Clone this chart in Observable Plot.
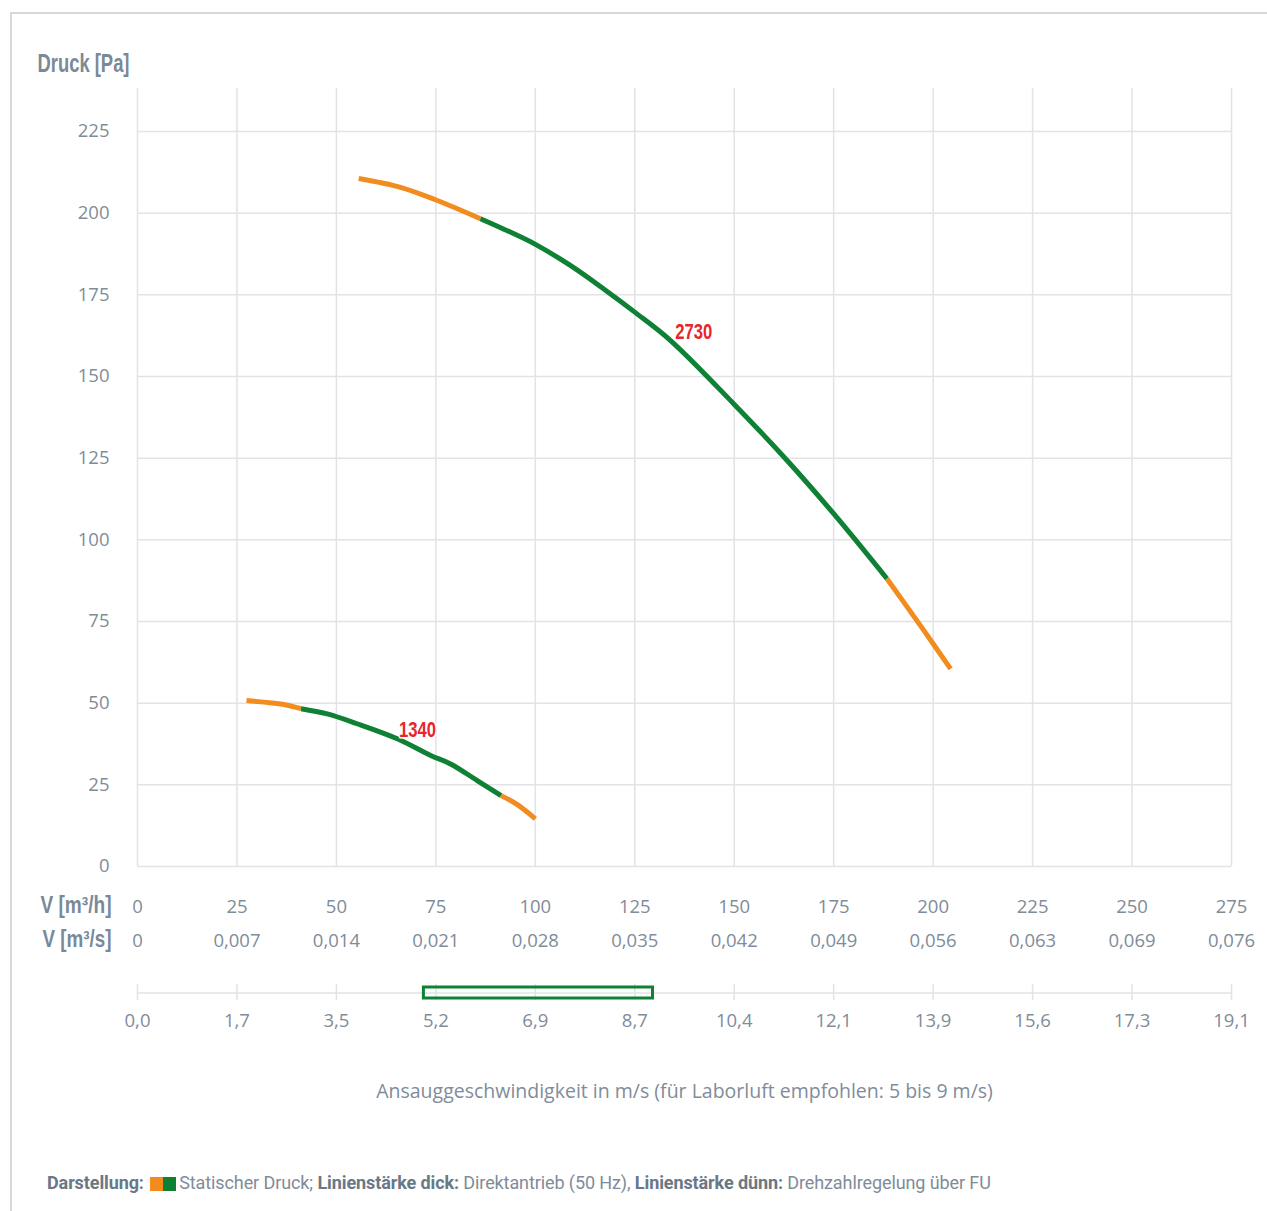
<!DOCTYPE html>
<html>
<head>
<meta charset="utf-8">
<script src="https://cdn.jsdelivr.net/npm/d3@7"></script>
<script src="https://cdn.jsdelivr.net/npm/@observablehq/plot@0.6"></script>
<style>
  html, body { margin: 0; padding: 0; background: #fff; overflow: hidden; }
  #page { position: relative; width: 1267px; height: 1211px; }
  #frame { position: absolute; left: 10px; top: 12px; width: 1257px; height: 1199px;
           border-top: 2px solid #d5d8dc; border-left: 2px solid #d5d8dc; box-sizing: border-box; }
  #chart { position: absolute; left: 0; top: 0; }
  #chart svg { display: block; max-width: none; }
  #caption { position: absolute; left: 47px; top: 1172px; font-family: "Roboto", sans-serif;
             font-size: 18px; line-height: 22px; color: #7f8c99; white-space: nowrap; letter-spacing: -0.1px; }
  #caption b { color: #6a7886; font-weight: 700; }
  .sw { display: inline-block; width: 13px; height: 14px; vertical-align: -2px; }
</style>
</head>
<body>
<div id="page">
  <div id="frame"></div>
  <div id="chart"></div>
  <div id="caption"><b>Darstellung:</b> <span class="sw" style="background:#f28c1e;margin-left:2px"></span><span class="sw" style="background:#0e8135;margin-right:3px"></span>Statischer Druck; <b>Linienstärke dick:</b> Direktantrieb (50 Hz), <b>Linienstärke dünn:</b> Drehzahlregelung über FU</div>
</div>
<script>
// ---- data ----
const m3hTicks = [0, 25, 50, 75, 100, 125, 150, 175, 200, 225, 250, 275];
const m3sLabels = ["0", "0,007", "0,014", "0,021", "0,028", "0,035", "0,042", "0,049", "0,056", "0,063", "0,069", "0,076"];
const velLabels = ["0,0", "1,7", "3,5", "5,2", "6,9", "8,7", "10,4", "12,1", "13,9", "15,6", "17,3", "19,1"];
const pressureTicks = [0, 25, 50, 75, 100, 125, 150, 175, 200, 225];

// curve 2730 rpm
const q2730 = [55.6, 66.1, 74.9, 86.2, 92.1, 99.8, 108.8, 117.2, 125.0, 134.0, 149.9, 163.3, 175.0, 188.4, 197.7, 204.4];
const p2730 = [210.6, 207.9, 204.1, 198.3, 195.1, 190.6, 184.0, 176.8, 169.7, 161.0, 141.6, 124.3, 108.0, 88.1, 72.2, 60.5];
const green2730 = [3, 13]; // index range of the green (recommended) part

// curve 1340 rpm
const q1340 = [27.4, 36.8, 41.1, 47.7, 55.2, 65.3, 73.7, 78.7, 85.4, 91.4, 95.4, 100.0];
const p1340 = [50.8, 49.6, 48.3, 46.7, 43.7, 39.1, 34.0, 31.4, 26.3, 21.7, 19.0, 14.6];
const green1340 = [2, 9];

const labelNames = ["2730", "1340"];
const labelQ = [139.8, 70.4];
const labelP = [163.5, 41.9];

const recommendedVelocity = [5, 9]; // m/s
const maxVelocity = 19.1, maxFlow = 275;

// ---- styles ----
const ORANGE = "#f28c1e", GREEN = "#0e8135", RED = "#e5262b";
const GRID = "#e1e3e7", TXT = "#7f8c99", HEAD = "#7a8997";
const tickFont = "Open Sans, sans-serif";
const headFont = "Liberation Sans, Arial, sans-serif";
const headWidths = {"Druck [Pa]": 92, "V [m³/h]": 71, "V [m³/s]": 69, "2730": 37, "1340": 37};

function segments(q, p, g) {
  const pts = q.map((x, i) => ({x, y: p[i]}));
  return [
    {pts: pts.slice(0, g[0] + 1), color: ORANGE},
    {pts: pts.slice(g[0], g[1] + 1), color: GREEN},
    {pts: pts.slice(g[1]), color: ORANGE}
  ];
}
const segs = [...segments(q2730, p2730, green2730), ...segments(q1340, p1340, green1340)];
const labels = labelNames.map((t, i) => ({t, x: labelQ[i], y: labelP[i]}));

const yTop = 238.16;

const main = Plot.plot({
  width: 1267, height: 960,
  marginLeft: 137, marginRight: 36, marginTop: 88, marginBottom: 94,
  x: {domain: [0, maxFlow], axis: null},
  y: {domain: [0, yTop], axis: null},
  style: {fontFamily: tickFont, background: "transparent"},
  marks: [
    Plot.gridX(m3hTicks, {stroke: GRID, strokeOpacity: 1, strokeWidth: 1.5}),
    Plot.gridY(pressureTicks, {stroke: GRID, strokeOpacity: 1, strokeWidth: 1.5}),
    Plot.axisY(pressureTicks, {tickSize: 0, tickPadding: 28, fontSize: 18.5, fill: TXT, label: null, fontFamily: tickFont}),
    ...segs.map(s => Plot.line(s.pts, {x: "x", y: "y", stroke: s.color, strokeWidth: 5, curve: "catmull-rom", strokeLinecap: "butt"})),
    Plot.text(labels, {x: "x", y: "y", text: "t", fill: RED, fontSize: 22, fontWeight: "bold", fontFamily: headFont, stroke: "white", strokeWidth: 3, className: "hdr"}),
    Plot.text(["Druck [Pa]"], {frameAnchor: "top-left", lineAnchor: "middle", dx: -100, dy: -25, textAnchor: "start", fontSize: 26, fontWeight: "bold", fill: HEAD, fontFamily: headFont, className: "hdr"}),
    Plot.text(m3hTicks, {x: d => d, text: d => String(d), frameAnchor: "bottom", dy: 46, fontSize: 18.5, fill: TXT}),
    Plot.text(m3sLabels, {x: (d, i) => m3hTicks[i], text: d => d, frameAnchor: "bottom", dy: 80, fontSize: 18.5, fill: TXT}),
    Plot.text(["V [m³/h]"], {frameAnchor: "bottom-left", dx: -26, dy: 46, textAnchor: "end", fontSize: 23, fontWeight: "bold", fill: HEAD, fontFamily: headFont, className: "hdr"}),
    Plot.text(["V [m³/s]"], {frameAnchor: "bottom-left", dx: -26, dy: 80, textAnchor: "end", fontSize: 23, fontWeight: "bold", fill: HEAD, fontFamily: headFont, className: "hdr"})
  ]
});

const k = maxFlow / maxVelocity;
const vel = Plot.plot({
  width: 1267, height: 160,
  marginLeft: 137, marginRight: 36, marginTop: 27, marginBottom: 122,
  x: {domain: [0, maxFlow], axis: null},
  y: {domain: [0, 1], axis: null},
  style: {fontFamily: tickFont, background: "transparent"},
  marks: [
    Plot.ruleY([0.5], {stroke: GRID, strokeWidth: 1.5}),
    Plot.ruleX(m3hTicks, {x: d => d, stroke: GRID, strokeWidth: 1.5, insetTop: -3, insetBottom: -2}),
    Plot.rect([recommendedVelocity], {x1: d => d[0] * k, x2: d => d[1] * k, stroke: GREEN, strokeWidth: 3, fill: "none"}),
    Plot.text(velLabels, {x: (d, i) => m3hTicks[i], text: d => d, frameAnchor: "bottom", dy: 28, fontSize: 18.5, fill: TXT}),
    Plot.text(["Ansauggeschwindigkeit in m/s (für Laborluft empfohlen: 5 bis 9 m/s)"], {frameAnchor: "bottom", dy: 99, fontSize: 19.5, fill: TXT})
  ]
});

// condensed look for headings: squeeze bold text to the reference widths
d3.select(main).selectAll("g.hdr text").each(function () {
  const w = headWidths[this.textContent];
  if (w) d3.select(this).attr("textLength", w).attr("lengthAdjust", "spacingAndGlyphs");
});

const chart = document.getElementById("chart");
chart.appendChild(main);
chart.appendChild(vel);
</script>
</body>
</html>
